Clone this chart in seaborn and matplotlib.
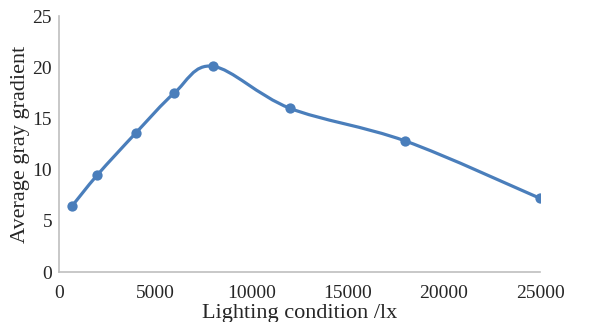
import numpy as np
import pandas as pd
import matplotlib
matplotlib.use('Agg')
from matplotlib import pyplot as plt
from matplotlib.path import Path
from matplotlib.patches import PathPatch
import seaborn as sns

# 光照条件与平均灰度梯度
lux = [700, 2000, 4000, 6000, 8000, 12000, 18000, 25000]
gradient = [6.5, 9.5, 13.6, 17.5, 20.1, 16.0, 12.8, 7.2]
x_ticks = [0, 5000, 10000, 15000, 20000, 25000]
y_ticks = [0, 5, 10, 15, 20, 25]

color = '#4a7ebb'


def smooth_path(xs, ys, tension=1 / 6):
    # Catmull-Rom style bezier through the points (like Excel smoothed line)
    pts = np.column_stack([xs, ys]).astype(float)
    verts = [pts[0]]
    codes = [Path.MOVETO]
    n = len(pts)
    for i in range(n - 1):
        p0 = pts[i - 1] if i > 0 else pts[i]
        p1 = pts[i]
        p2 = pts[i + 1]
        p3 = pts[i + 2] if i + 2 < n else pts[i + 1]
        c1 = p1 + (p2 - p0) * tension
        c2 = p2 - (p3 - p1) * tension
        verts += [c1, c2, p2]
        codes += [Path.CURVE4] * 3
    return Path(verts, codes)


sns.set_style('white')
plt.rcParams['font.family'] = ['Liberation Serif']

df = pd.DataFrame({'lux': lux, 'gradient': gradient})

fig = plt.figure(figsize=(5.94, 3.22), dpi=100)
ax = fig.add_axes([0.0993, 0.155, 0.81, 0.795])

ax.add_patch(PathPatch(smooth_path(df['lux'], df['gradient']), facecolor='none',
                       edgecolor=color, lw=2.3, capstyle='round', zorder=2))
sns.scatterplot(data=df, x='lux', y='gradient', color=color, s=55,
                edgecolor=color, linewidth=0, ax=ax, zorder=3)

ax.set_xlim(0, 25000)
ax.set_ylim(0, 25)
ax.set_xticks(x_ticks)
ax.set_yticks(y_ticks)
ax.tick_params(axis='x', direction='in', length=3, width=1, color='#bfbfbf',
               labelsize=14, pad=9)
ax.tick_params(axis='y', length=0, labelsize=14, pad=5)
for s in ['top', 'right']:
    ax.spines[s].set_visible(False)
for s in ['left', 'bottom']:
    ax.spines[s].set_color('#bfbfbf')
    ax.spines[s].set_linewidth(1.2)

ax.set_xlabel('Lighting condition /lx', fontsize=16, labelpad=2)
ax.set_ylabel('Average gray gradient', fontsize=16, labelpad=2)

fig.savefig('out.png', dpi=100)
